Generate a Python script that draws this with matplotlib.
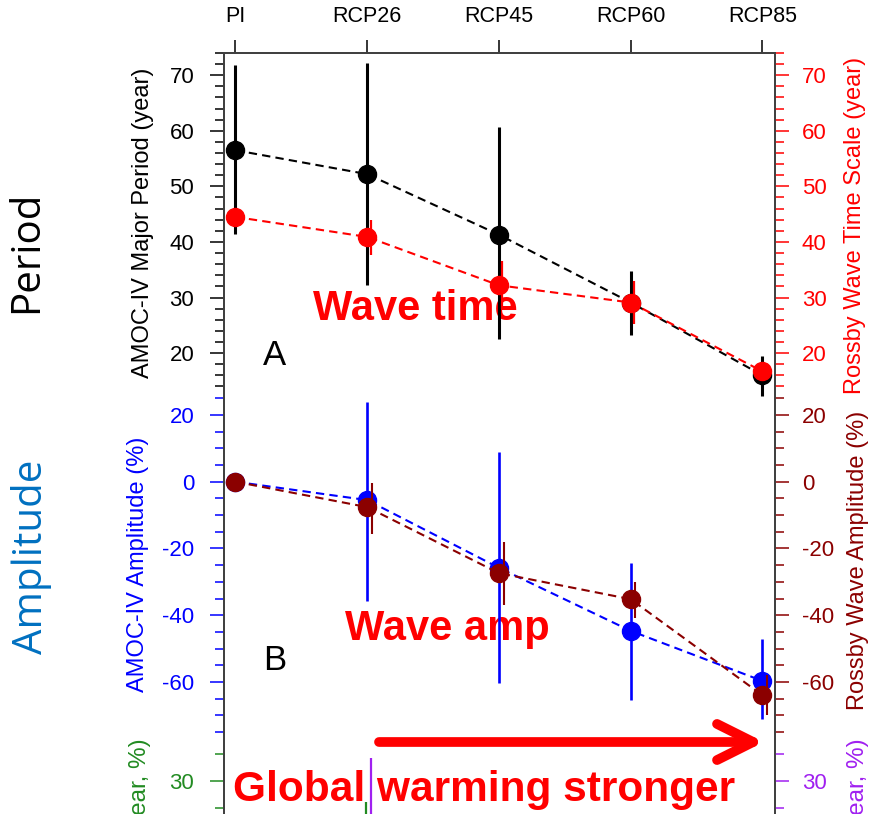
import numpy as np
import matplotlib.pyplot as plt
from matplotlib.ticker import MultipleLocator, FixedLocator

plt.rcParams['font.family'] = ['Liberation Sans', 'DejaVu Sans']
plt.rcParams['axes.unicode_minus'] = False

scenarios = ['PI', 'RCP26', 'RCP45', 'RCP60', 'RCP85']

# Panel A: period (year)
amoc_period = [56.5, 52.2, 41.3, 29.1, 16.0]
amoc_period_lo = [41.5, 32.3, 22.5, 23.3, 12.3]
amoc_period_hi = [71.8, 72.2, 60.6, 34.8, 19.4]

rossby_time = [44.5, 40.9, 32.2, 29.1, 16.7]
rossby_time_lo = [44.5, 37.6, 28.0, 25.2, 15.2]
rossby_time_hi = [44.5, 44.0, 36.5, 32.9, 18.3]

# Panel B: amplitude (%)
amoc_amp = [0.0, -5.5, -25.8, -44.7, -59.7]
amoc_amp_lo = [0.0, -35.7, -60.2, -65.4, -71.0]
amoc_amp_hi = [0.0, 24.0, 9.0, -24.4, -47.1]

rossby_amp = [0.0, -7.6, -27.4, -35.2, -64.0]
rossby_amp_lo = [0.0, -15.6, -37.0, -40.8, -70.0]
rossby_amp_hi = [0.0, -0.3, -18.0, -30.0, -58.0]

# Panel C: only the top edge is visible (RCP26 bars)
c_green_lo = [np.nan, 5.0, np.nan, np.nan, np.nan]
c_green_hi = [np.nan, 26.0, np.nan, np.nan, np.nan]
c_purple_lo = [np.nan, 5.0, np.nan, np.nan, np.nan]
c_purple_hi = [np.nan, 34.3, np.nan, np.nan, np.nan]
c_major_ticks = [30]
c_minor_ticks = [25, 35]

W, H = 869, 814
fig = plt.figure(figsize=(W / 100, H / 100), dpi=100)


def px(x, y):
    # pixel position (from top-left) -> figure fraction
    return x / W, 1 - y / H


x = np.arange(len(scenarios))
xlim = (-0.087, 4.095)
spine_col = '#404040'
left, width = 224 / W, 551 / W

axA = fig.add_axes([left, 1 - 397 / H, width, 344 / H])
axB = fig.add_axes([left, 1 - 732 / H, width, 335 / H])
axC = fig.add_axes([left, 1 - 1067 / H, width, 335 / H])
axA2 = axA.twinx()
axB2 = axB.twinx()
axC2 = axC.twinx()


def style_y(ax, col, side, major, minor):
    if np.iterable(major):
        ax.yaxis.set_major_locator(FixedLocator(major))
        ax.yaxis.set_minor_locator(FixedLocator(minor))
    else:
        ax.yaxis.set_major_locator(MultipleLocator(major))
        ax.yaxis.set_minor_locator(MultipleLocator(minor))
    pad = 11.5 if side == 'left' else 9.4
    ax.tick_params(axis='y', which='major', length=10, width=1.1, colors=col,
                   labelsize=16, pad=pad)
    ax.tick_params(axis='y', which='minor', length=6.5, width=1.1, colors=col)
    for s in ax.spines.values():
        s.set_color(spine_col)
        s.set_linewidth(1.3)


def draw_series(ax, y, lo, hi, col, elw, off, z):
    y = np.array(y)
    err = [y - np.array(lo), np.array(hi) - y]
    ax.errorbar(x + off, y, yerr=err, fmt='none', ecolor=col, elinewidth=elw,
                capsize=0, zorder=z)
    ax.plot(x, y, ls='--', dashes=(4, 2.5), lw=1.5, color=col, marker='o',
            ms=13, zorder=z + 1)


# ---- Panel A ----
for a in (axA, axA2):
    a.set_xlim(*xlim)
    a.set_ylim(12.1, 74.0)
    a.spines['bottom'].set_visible(False)
axA.xaxis.tick_top()
axA.set_xticks(x)
axA.set_xticklabels(scenarios)
axA.tick_params(axis='x', length=9.5, width=1.1, labelsize=15.5, pad=9,
                top=True, bottom=False, labeltop=True, labelbottom=False)
style_y(axA, 'black', 'left', 10, 2)
style_y(axA2, 'red', 'right', 10, 2)
draw_series(axA, amoc_period, amoc_period_lo, amoc_period_hi, 'black', 2.2, 0, 2)
draw_series(axA2, rossby_time, rossby_time_lo, rossby_time_hi, 'red', 1.6, 0.025, 2)

# ---- Panel B ----
for a in (axB, axB2):
    a.set_xlim(*xlim)
    a.set_ylim(-75, 25.4)
    a.spines['top'].set_visible(False)
    a.spines['bottom'].set_visible(False)
    a.set_xticks([])
style_y(axB, 'blue', 'left', 20, 5)
style_y(axB2, '#8B0000', 'right', 20, 5)
draw_series(axB, amoc_amp, amoc_amp_lo, amoc_amp_hi, 'blue', 1.9, 0, 2)
draw_series(axB2, rossby_amp, rossby_amp_lo, rossby_amp_hi, '#8B0000', 1.5, 0.035, 2)

# ---- Panel C (cut off by the figure edge) ----
for a in (axC, axC2):
    a.set_xlim(*xlim)
    a.set_ylim(-23.8, 39.2)
    a.spines['top'].set_visible(False)
    a.spines['bottom'].set_visible(False)
    a.set_xticks([])
style_y(axC, '#228B22', 'left', c_major_ticks, c_minor_ticks)
style_y(axC2, '#A020F0', 'right', c_major_ticks, c_minor_ticks)
axC.vlines(x - 0.01, c_green_lo, c_green_hi, color='#228B22', lw=1.6, zorder=2)
axC2.vlines(x + 0.025, c_purple_lo, c_purple_hi, color='#A020F0', lw=1.6, zorder=2)

# ---- axis labels ----
fig.text(*px(143, 223), 'AMOC-IV Major Period (year)', rotation=90,
         ha='center', va='center', fontsize=17, color='black')
fig.text(*px(855, 225), 'Rossby Wave Time Scale (year)', rotation=90,
         ha='center', va='center', fontsize=17, color='red')
fig.text(*px(138, 564), 'AMOC-IV Amplitude (%)', rotation=90,
         ha='center', va='center', fontsize=17, color='blue')
fig.text(*px(858, 560), 'Rossby Wave Amplitude (%)', rotation=90,
         ha='center', va='center', fontsize=17, color='#8B0000')
fig.text(*px(140, 738), '(year, %)', rotation=90, ha='center', va='top',
         fontsize=17.5, color='#228B22')
fig.text(*px(858, 738), '(year, %)', rotation=90, ha='center', va='top',
         fontsize=17.5, color='#A020F0')

fig.text(*px(27, 252), 'Period', rotation=90, ha='center', va='center',
         fontsize=29, family=['Open Sans', 'DejaVu Sans'], color='black')
fig.text(*px(32, 557), 'Amplitude', rotation=90, ha='center', va='center',
         fontsize=29, family=['Open Sans', 'DejaVu Sans'], color='#0070C0')

# panel letters and annotations (under the bars)
axA.text(*px(263, 365), 'A', transform=fig.transFigure, fontsize=25,
         ha='left', va='baseline', zorder=1, clip_on=False)
axB.text(*px(263, 670), 'B', transform=fig.transFigure, fontsize=25,
         ha='left', va='baseline', zorder=1, clip_on=False)
axA.text(*px(313, 320), 'Wave time', transform=fig.transFigure, fontsize=30,
         fontweight='bold', color='red', ha='left', va='baseline', zorder=1,
         clip_on=False)
axB.text(*px(345, 640), 'Wave amp', transform=fig.transFigure, fontsize=30,
         fontweight='bold', color='red', ha='left', va='baseline', zorder=1,
         clip_on=False)
axC.text(*px(233, 801), 'Global warming stronger', transform=fig.transFigure,
         fontsize=30.5, fontweight='bold', color='red', ha='left', va='baseline',
         zorder=1, clip_on=False)

fig.patches.append(plt.matplotlib.patches.FancyArrowPatch(
    px(379, 742), px(764, 742), transform=fig.transFigure,
    arrowstyle='->,head_length=1.3,head_width=0.65', mutation_scale=20,
    lw=7, color='red', shrinkA=0, shrinkB=0, capstyle='round',
    joinstyle='round'))

fig.savefig('out.png', dpi=100)
